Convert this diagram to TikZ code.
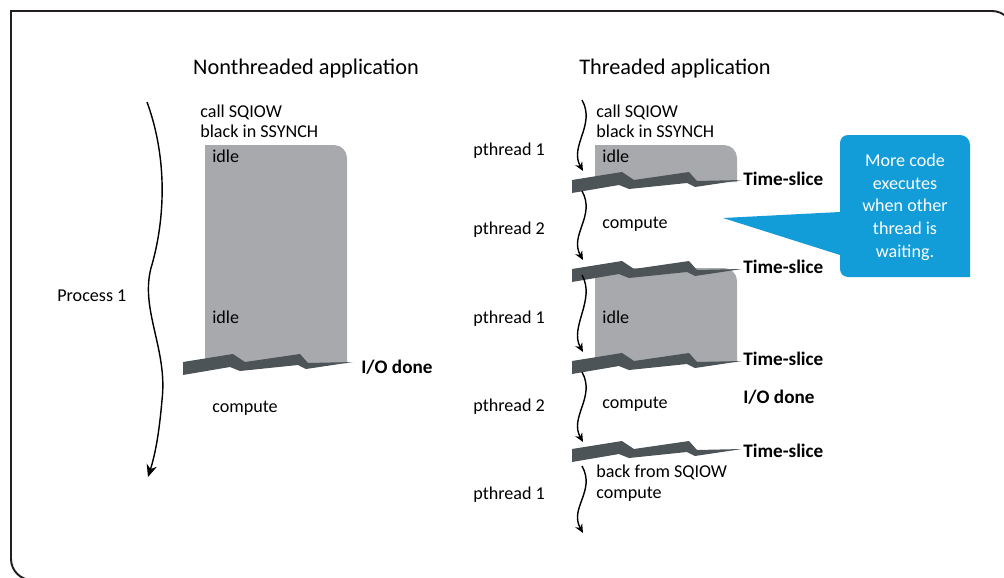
\documentclass[tikz,border=0pt]{standalone}
\usepackage{fontspec}
\setmainfont{Carlito}
\usetikzlibrary{arrows.meta}

\definecolor{idlegrey}{RGB}{167,169,172}
\definecolor{slicegrey}{RGB}{77,84,88}
\definecolor{noteblue}{RGB}{18,156,216}
\definecolor{framegrey}{RGB}{35,31,32}

% torn time-slice band, #1 = its upper left corner
\newcommand{\slicebar}[1]{\fill[slicegrey] (#1) -- ++(50,-8) -- ++(12,8) -- ++(55,-8) -- ++(8,9) -- ++(45,-1)
  -- ++(-47,7) -- ++(-8,-4) -- ++(-58,6) -- ++(-10,-4) -- ++(-47,8) -- cycle;}
% grey idle block: left, top, right, bottom
\newcommand{\idleblock}[4]{\fill[idlegrey] (#1,#2) -- (#3-13,#2) arc[start angle=270,end angle=360,radius=13]
  -- (#3,#4) -- (#1+6,#4) arc[start angle=90,end angle=180,radius=6] -- cycle;}

\begin{document}
\begin{tikzpicture}[x=0.02cm,y=-0.02cm,
  lbl/.style={inner sep=0pt,anchor=base west,font=\normalfont\fontsize{10.3}{12}\selectfont},
  slice/.style={inner sep=0pt,anchor=base west,font=\normalfont\fontsize{10.9}{13}\selectfont\bfseries},
  heading/.style={inner sep=0pt,anchor=base,font=\normalfont\fontsize{12.7}{15}\selectfont},
  wave/.style={line width=0.8pt,-{Stealth[length=5pt,width=4.5pt]}}]
\useasboundingbox (0,0) rectangle (1004,578);

% frame
\draw[framegrey,line width=1.1pt] (11,300) |- (500,11);
\draw[framegrey,line width=1.1pt,rounded corners=12] (499,11) -| (1013,300);
\draw[framegrey,line width=1.1pt,rounded corners=12] (11,299) |- (500,580);

\node[heading] (ntitle) at (306,74) {Nonthreaded application};
\node[heading] (ttitle) at (675,74) {Threaded application};

% nonthreaded
\idleblock{205}{145}{347}{363}
\slicebar{183,362}
\node[lbl] (proc) at (57,301) {Process 1};
\node[lbl] (ncall) at (200,117) {call SQIOW};
\node[lbl] (nblack) at (200,137) {black in SSYNCH};
\node[lbl] (nidlea) at (212,162) {idle};
\node[lbl] (nidleb) at (212,323) {idle};
\node[slice] (nio) at (361,373) {I/O done};
\node[lbl] (ncomp) at (212,412) {compute};

% threaded
\idleblock{595}{145}{737}{182}
\idleblock{595}{268}{737}{362}
\slicebar{572,180}
\slicebar{572,269}
\slicebar{572,361}
\slicebar{572,449}
\node[lbl] (pa) at (473,155) {pthread 1};
\node[lbl] (pb) at (473,234) {pthread 2};
\node[lbl] (pc) at (473,323) {pthread 1};
\node[lbl] (pd) at (473,411) {pthread 2};
\node[lbl] (pe) at (473,499) {pthread 1};
\node[lbl] (tcall) at (596,117) {call SQIOW};
\node[lbl] (tblack) at (596,137) {black in SSYNCH};
\node[lbl] (tidlea) at (602,162) {idle};
\node[lbl] (tcompa) at (602,228) {compute};
\node[lbl] (tidleb) at (602,323) {idle};
\node[lbl] (tcompb) at (602,408) {compute};
\node[lbl] (tback) at (596,477) {back from SQIOW};
\node[lbl] (tcompc) at (596,498) {compute};
\node[slice] (tsa) at (743,185) {Time-slice};
\node[slice] (tsb) at (743,273) {Time-slice};
\node[slice] (tsc) at (743,365) {Time-slice};
\node[slice] (tio) at (743,403) {I/O done};
\node[slice] (tsd) at (743,457) {Time-slice};

% callout
\fill[noteblue] (848,135) -- (960,135) arc[start angle=270,end angle=360,radius=10] -- (970,277) -- (848,277)
  arc[start angle=90,end angle=180,radius=8] -- (840,255) -- (723,218) -- (840,212) -- (840,143)
  arc[start angle=180,end angle=270,radius=8] -- cycle;
\node[inner sep=0pt,align=center,text=white,font=\normalfont\fontsize{10.3}{12.9}\selectfont] (note) at (905,207)
  {More code\\executes\\when other\\thread is\\waiting.};

% wavy time lines
\coordinate (ptop) at (147,102);
\coordinate (pbot) at (148,477);
\draw[line width=0.8pt,-{Stealth[length=7pt,width=6pt]}] (ptop) .. controls (170,165) and (163,228) .. (151,268)
  .. controls (140,310) and (168,350) .. (162,400) .. controls (159,435) and (155,455) .. (pbot);
\foreach \t/\b [count=\i] in {100/171,191/260,275/352,372/442,466/533} {
  \coordinate (w\i a) at (582,\t);
  \coordinate (w\i b) at (583,\b);
  \draw[wave] (w\i a) .. controls +(14,25) and +(-14,-25) .. (w\i b);
}
\end{tikzpicture}
\end{document}
